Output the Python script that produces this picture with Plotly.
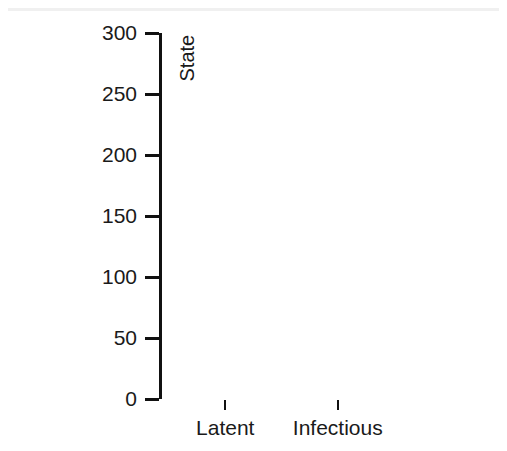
import plotly.graph_objects as go

# categories on the x axis and their (empty) counts
states = ["Latent", "Infectious"]
counts = [0, 0]

y_ticks = [0, 50, 100, 150, 200, 250, 300]

FONT = "Liberation Sans, Arial, Helvetica, sans-serif"

fig = go.Figure(
    go.Bar(
        x=states,
        y=counts,
        marker=dict(color="steelblue", line=dict(width=0)),
        width=0.9,
        showlegend=False,
    )
)

fig.update_layout(
    width=499,
    height=443,
    paper_bgcolor="#ffffff",
    plot_bgcolor="#ffffff",
    font=dict(family=FONT, size=21, color="#1a1a1a"),
    margin=dict(l=154, r=106, t=25, b=50),
    bargap=0.1,
    shapes=[
        dict(type="rect", xref="paper", yref="paper", x0=-1, x1=2,
             y0=1.06, y1=1.1, fillcolor="#f0f0f0", line=dict(width=0), layer="below"),
    ],
    annotations=[
        dict(
            text="State",
            xref="paper", yref="paper",
            x=0, y=1,
            xanchor="left", yanchor="top",
            xshift=11,
            textangle=-90,
            showarrow=False,
            font=dict(family=FONT, size=20, color="#1a1a1a"),
        )
    ],
)

fig.update_xaxes(
    type="category",
    range=[-0.5625, 1.5625],
    showline=False,
    showgrid=False,
    zeroline=False,
    ticks="outside",
    ticklen=10,
    tickwidth=2,
    tickcolor="#111111",
)

fig.update_yaxes(
    range=[0, 300],
    tickvals=y_ticks,
    showline=True,
    linecolor="#111111",
    linewidth=2.5,
    showgrid=False,
    zeroline=False,
    ticks="outside",
    ticklen=14,
    tickwidth=2.5,
    tickcolor="#111111",
    ticklabelstandoff=4,
)

fig.write_html("out.html")
